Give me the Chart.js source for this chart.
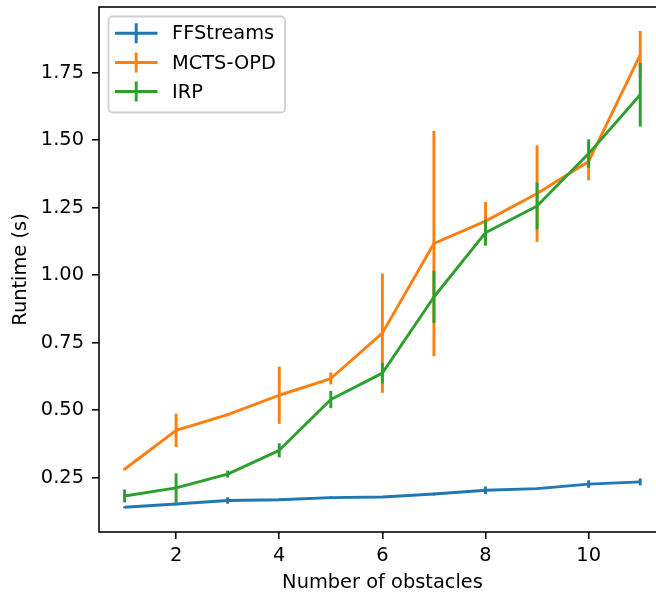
<!DOCTYPE html>
<html>
<head>
<meta charset="utf-8">
<script src="https://cdn.jsdelivr.net/npm/chart.js@4.4.1/dist/chart.umd.min.js"></script>
<style>
  html, body { margin: 0; padding: 0; overflow: hidden; background: #fff; }
  #wrap { width: 680px; height: 598px; }
</style>
</head>
<body>
<div id="wrap"><canvas id="chart"></canvas></div>
<script>
const obstacles = [1, 2, 3, 4, 5, 6, 7, 8, 9, 10, 11];
const xTicks = [2, 4, 6, 8, 10];
const yTicks = [0.25, 0.5, 0.75, 1.0, 1.25, 1.5, 1.75];

const ffMean = [0.140, 0.152, 0.165, 0.168, 0.176, 0.178, 0.189, 0.203, 0.209, 0.226, 0.234];
const ffErr = [0.003, 0.005, 0.012, 0.004, 0.004, 0.003, 0.005, 0.014, 0.004, 0.014, 0.013];
const mctsMean = [0.281, 0.425, 0.483, 0.555, 0.617, 0.785, 1.117, 1.200, 1.302, 1.421, 1.816];
const mctsErr = [0.004, 0.062, 0.006, 0.106, 0.022, 0.221, 0.417, 0.071, 0.179, 0.070, 0.088];
const irpMean = [0.182, 0.212, 0.263, 0.351, 0.539, 0.637, 0.919, 1.157, 1.256, 1.450, 1.668];
const irpErr = [0.024, 0.054, 0.013, 0.026, 0.032, 0.038, 0.096, 0.048, 0.087, 0.053, 0.118];

const FONT = "DejaVu Sans";
const FS = 19.4;
const LW = 2.9;

function points(ys) {
  return obstacles.map((x, i) => ({ x, y: ys[i] }));
}

function series(label, color, ys, errs, order) {
  return {
    label,
    data: points(ys),
    errors: errs,
    borderColor: color,
    backgroundColor: color,
    borderWidth: LW,
    pointRadius: 0,
    tension: 0,
    borderJoinStyle: "round",
    order
  };
}

// error bars, drawn just before each line so the stacking follows the series order
const errorBars = {
  id: "errorBars",
  beforeDatasetDraw(chart, args) {
    const ds = chart.data.datasets[args.index];
    const xs = chart.scales.x, ys = chart.scales.y;
    const ctx = chart.ctx;
    ctx.save();
    ctx.strokeStyle = ds.borderColor;
    ctx.lineWidth = LW;
    ctx.lineCap = "butt";
    ds.data.forEach((p, i) => {
      const e = ds.errors[i];
      const px = xs.getPixelForValue(p.x);
      ctx.beginPath();
      ctx.moveTo(px, ys.getPixelForValue(p.y - e));
      ctx.lineTo(px, ys.getPixelForValue(p.y + e));
      ctx.stroke();
    });
    ctx.restore();
  }
};

const frameAndLegend = {
  id: "frameAndLegend",
  afterDraw(chart) {
    const { ctx, chartArea: a } = chart;
    ctx.save();
    ctx.strokeStyle = "#000";
    ctx.lineWidth = 1.55;
    ctx.strokeRect(a.left, a.top, a.right - a.left, a.bottom - a.top);

    // legend box, matplotlib style
    const bx = 108.5, by = 16.5, bw = 176.5, bh = 96;
    ctx.beginPath();
    ctx.roundRect(bx, by, bw, bh, 4);
    ctx.fillStyle = "rgba(255,255,255,0.8)";
    ctx.fill();
    ctx.strokeStyle = "#d0d0d0";
    ctx.lineWidth = 1.8;
    ctx.stroke();

    const rows = [33.3, 62.5, 91.5];
    ctx.font = FS + "px '" + FONT + "'";
    ctx.textBaseline = "middle";
    ctx.textAlign = "left";
    chart.data.datasets.forEach((ds, r) => {
      const cy = rows[r];
      ctx.strokeStyle = ds.borderColor;
      ctx.lineWidth = LW;
      ctx.beginPath();
      ctx.moveTo(115, cy);
      ctx.lineTo(157.5, cy);
      ctx.moveTo(136.2, cy - 10);
      ctx.lineTo(136.2, cy + 10);
      ctx.stroke();
      ctx.fillStyle = "#000";
      ctx.fillText(ds.label, 172, cy + 1);
    });
    ctx.restore();
  }
};

const tickFont = { family: FONT, size: FS };

new Chart(document.getElementById("chart"), {
  type: "line",
  data: {
    datasets: [
      series("FFStreams", "#1f77b4", ffMean, ffErr, 2),
      series("MCTS-OPD", "#ff7f0e", mctsMean, mctsErr, 1),
      series("IRP", "#2ca02c", irpMean, irpErr, 0)
    ]
  },
  options: {
    responsive: true,
    maintainAspectRatio: false,
    devicePixelRatio: 1,
    animation: false,
    layout: { padding: { top: 7, right: 14, left: 0, bottom: 0 } },
    plugins: {
      legend: { display: false },
      tooltip: { enabled: false }
    },
    scales: {
      x: {
        type: "linear",
        min: 0.505,
        max: 11.5,
        afterBuildTicks: (s) => { s.ticks = xTicks.map(v => ({ value: v })); },
        afterFit: (s) => { s.height = 66; s.paddingLeft = 0; s.paddingRight = 0; },
        grid: { display: true, drawOnChartArea: false, drawTicks: true, tickLength: 7, color: "#000", lineWidth: 1.55 },
        border: { display: false },
        ticks: { color: "#000", font: tickFont, padding: 5, maxRotation: 0, callback: (v) => String(v) },
        title: { display: true, text: "Number of obstacles", color: "#000", font: tickFont, padding: { top: 0, bottom: 3 } }
      },
      y: {
        type: "linear",
        min: 0.0485,
        max: 1.993,
        afterBuildTicks: (s) => { s.ticks = yTicks.map(v => ({ value: v })); },
        afterFit: (s) => { s.width = 99; s.paddingTop = 0; s.paddingBottom = 0; },
        grid: { display: true, drawOnChartArea: false, drawTicks: true, tickLength: 7, color: "#000", lineWidth: 1.55 },
        border: { display: false },
        ticks: { color: "#000", font: tickFont, padding: 8, callback: (v) => Number(v).toFixed(2) },
        title: { display: true, text: "Runtime (s)", color: "#000", font: tickFont, padding: { top: 9, bottom: 0 } }
      }
    }
  },
  plugins: [errorBars, frameAndLegend]
});
</script>
</body>
</html>
